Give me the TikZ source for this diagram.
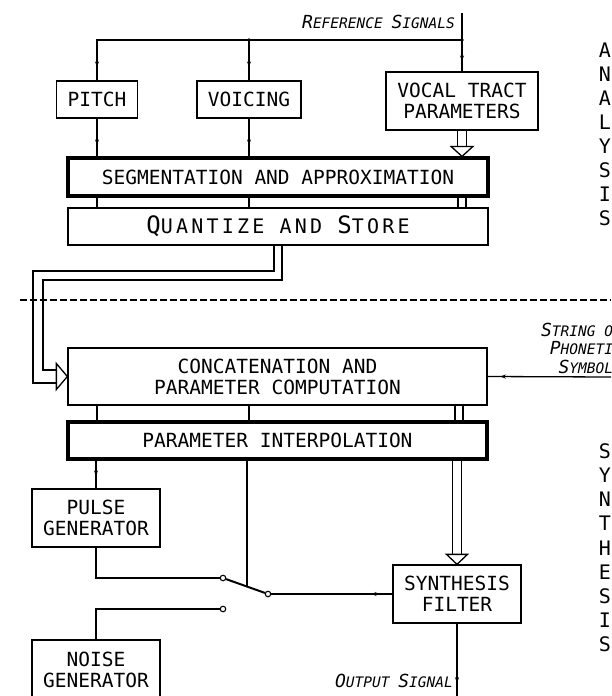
\documentclass[tikz,border=0pt]{standalone}
\usepackage{fontspec}
\setmainfont{DejaVu Sans Mono}
\newfontfamily\qfont[LetterSpace=16]{DejaVu Sans Mono}
\usetikzlibrary{arrows.meta,calc,decorations.markings}
\newcommand\scx[2]{{\fontsize{18}{18.5}\selectfont #1}{\fontsize{14.5}{18.5}\selectfont #2}}
\tikzset{
  box/.style={draw, line width=1.3pt, rectangle, inner sep=0pt, align=center, font=\fontsize{19.5}{21}\selectfont},
  thickbox/.style={box, line width=3.2pt},
  wire/.style={line width=1.3pt},
  midtick/.style={postaction={decorate, decoration={markings, mark=at position #1 with {\arrow{Stealth[length=6pt,width=4pt]}}}}},
  lbl/.style={font=\itshape\fontsize{14.5}{18.5}\selectfont, inner sep=0pt},
  big/.style={font=\fontsize{20}{24}\selectfont, inner sep=0pt},
  contact/.style={circle, draw, fill=white, line width=1.1pt, minimum size=5.5pt, inner sep=0pt},
  hollow/.style={draw, fill=white, line width=1.3pt, line join=miter},
  sepline/.style={line width=1.2pt, dash pattern=on 7pt off 3pt}
}
\begin{document}
\begin{tikzpicture}[x=1pt, y=-1pt]
\useasboundingbox (0,0) rectangle (611,696);
\fill[white] (0,0) rectangle (611,696);
\clip (0,0) rectangle (611,696);

% ---------------- analysis part ----------------
\node[box, minimum width=81pt, minimum height=37pt] (pitch) at (97,99.5) {PITCH};
\node[box, minimum width=104pt, minimum height=37pt] (voicing) at (249,99.5) {VOICING};
\node[box, minimum width=152pt, minimum height=58pt] (vt) at (462,101) {VOCAL TRACT\\PARAMETERS};
\node[thickbox, minimum width=420pt, minimum height=38pt] (seg) at (278,177) {SEGMENTATION AND APPROXIMATION};
\node[box, minimum width=420pt, minimum height=37pt] (quant) at (278,226.5)
  {\qfont\fontsize{24}{24}\selectfont Q\fontsize{20}{20}\selectfont UANTIZE AND \fontsize{24}{24}\selectfont S\fontsize{20}{20}\selectfont TORE};

\coordinate (refTop) at (462,13);
\coordinate (jR) at (462,40);
\coordinate (jV) at (249,40);
\coordinate (corner) at (97,40);

\node[lbl, anchor=east] (reflbl) at (455,22) {\scx{R}{EFERENCE} \scx{S}{IGNALS}};

\draw[wire, midtick=-10pt] (refTop) -- (vt.north);
\draw[wire, midtick=-13pt] (jR) -- (corner) -- (pitch.north);
\draw[wire, midtick=-13pt] (jV) -- (voicing.north);
\fill (jR) circle (1.8pt);
\fill (jV) circle (1.8pt);

\draw[wire, midtick=-11pt] (pitch.south) -- (pitch.south |- seg.north);
\draw[wire, midtick=-11pt] (voicing.south) -- (voicing.south |- seg.north);

% hollow arrow VT -> seg
\coordinate (ha) at (vt.south |- seg.north);
\draw[wire] ($(vt.south)+(-4.5,0)$) -- ($(ha)+(-4.5,-10)$);
\draw[wire] ($(vt.south)+(4.5,0)$) -- ($(ha)+(4.5,-10)$);
\draw[hollow] ($(ha)+(-11,-10)$) -- ($(ha)+(11,-10)$) -- (ha) -- cycle;

% seg -> quant
\draw[wire] (seg.south -| pitch.south) -- (quant.north -| pitch.south);
\draw[wire] (seg.south -| voicing.south) -- (quant.north -| voicing.south);
\draw[wire] ($(seg.south -| vt.south)+(-4,0)$) -- ($(quant.north -| vt.south)+(-4,0)$);
\draw[wire] ($(seg.south -| vt.south)+(4,0)$) -- ($(quant.north -| vt.south)+(4,0)$);

% separator
\draw[sepline] (20,300) -- (611,300);

% ---------------- synthesis part ----------------
\node[box, minimum width=419pt, minimum height=57pt] (conc) at (277.5,376.5) {CONCATENATION AND\\PARAMETER COMPUTATION};
\node[thickbox, minimum width=419pt, minimum height=37pt] (interp) at (277.5,440.5) {PARAMETER INTERPOLATION};
\node[box, minimum width=128pt, minimum height=58pt] (pulse) at (96,518) {PULSE\\GENERATOR};
\node[box, minimum width=128pt, minimum height=60pt] (noise) at (96,670) {NOISE\\GENERATOR};
\node[box, minimum width=128pt, minimum height=58pt] (synth) at (457,594) {SYNTHESIS\\FILTER};

% quant -> conc hollow double path
\coordinate (o1) at (33,271);
\coordinate (i1) at (43,280);
\draw[wire] ($(quant.south)+(-4,0)$) |- (o1) |- ($(conc.west)+(-11,6.5)$);
\draw[wire] ($(quant.south)+(4,0)$) |- (i1) |- ($(conc.west)+(-11,-6.5)$);
\draw[hollow] ($(conc.west)+(-11,-13)$) -- ($(conc.west)+(-11,13)$) -- (conc.west) -- cycle;

% string of phonetic symbols
\coordinate (inR) at (611,377);
\draw[wire, midtick=0.9] (inR) -- (conc.east);
\node[lbl, anchor=east, align=right] (strlbl) at (622,348)
  {\scx{S}{TRING OF}\\\scx{P}{HONETIC}\\\scx{S}{YMBOLS}};

% conc -> interp
\coordinate (dx) at (459,0);
\draw[wire] (conc.south -| pitch.south) -- (interp.north -| pitch.south);
\draw[wire] (conc.south -| voicing.south) -- (interp.north -| voicing.south);
\draw[wire] ($(conc.south -| dx)+(-4,0)$) -- ($(interp.north -| dx)+(-4,0)$);
\draw[wire] ($(conc.south -| dx)+(4,0)$) -- ($(interp.north -| dx)+(4,0)$);

% interp -> pulse
\draw[wire, midtick=-12pt] (interp.south -| pulse.north) -- (pulse.north);

% switch
\node[contact] (cp) at (223,578) {};
\node[contact] (cn) at (223,609) {};
\node[contact] (cc) at (268,594) {};
\coordinate (ctl) at ($(cp)!0.533!(cc)$);
\draw[wire] (pulse.south) |- (cp);
\draw[wire] (noise.north) |- (cn);
\draw[line width=2pt] (cp) -- (cc);
\draw[wire] (interp.south -| ctl) -- (ctl);
\draw[wire, midtick=-12pt] (cc) -- (synth.west);

% interp -> synth hollow arrow
\coordinate (hb) at (synth.north);
\draw[wire] ($(interp.south -| hb)+(-4.5,0)$) -- ($(hb)+(-4.5,-10)$);
\draw[wire] ($(interp.south -| hb)+(4.5,0)$) -- ($(hb)+(4.5,-10)$);
\draw[hollow] ($(hb)+(-10.5,-10)$) -- ($(hb)+(10.5,-10)$) -- (hb) -- cycle;

% output
\coordinate (outB) at (457,700);
\draw[wire, midtick=0.78] (synth.south) -- (outB);
\node[lbl, anchor=east] (outlbl) at (453,681) {\scx{O}{UTPUT} \scx{S}{IGNAL}};

% vertical words
\foreach \ch [count=\i from 0] in {A,N,A,L,Y,S,I,S}
  \node[big] (an\i) at (605,50+24*\i) {\ch};
\foreach \ch [count=\i from 0] in {S,Y,N,T,H,E,S,I,S}
  \node[big] (sy\i) at (605,451+24.2*\i) {\ch};
\end{tikzpicture}
\end{document}
